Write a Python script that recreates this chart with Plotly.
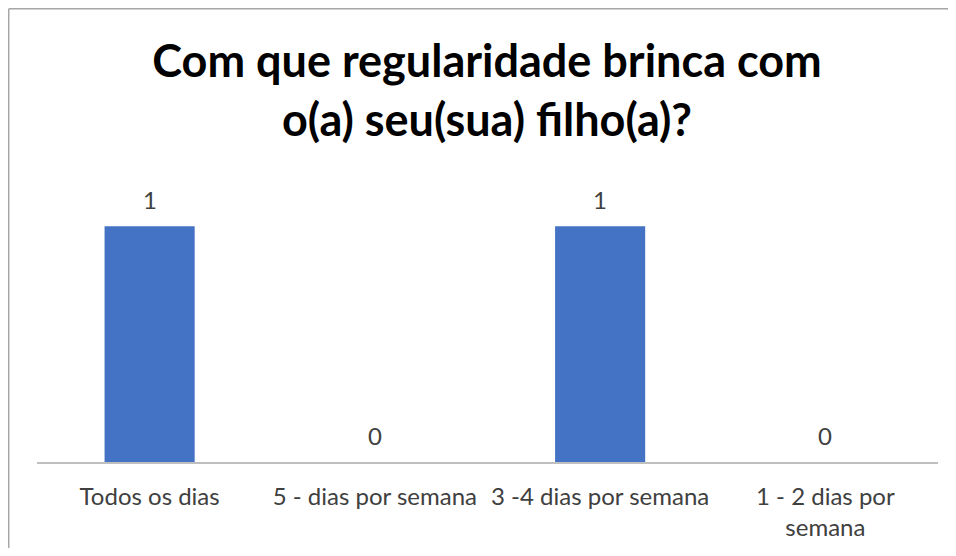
import plotly.graph_objects as go

# Dados
categorias = ["Todos os dias", "5 - dias por semana", "3 -4 dias por semana", "1 - 2 dias por<br>semana"]
valores = [1, 0, 1, 0]
titulo = "Com que regularidade brinca com<br>o(a) seu(sua) filho(a)?"

fonte = "Lato, Carlito, Calibri, sans-serif"

fig = go.Figure()

fig.add_trace(go.Bar(
    x=categorias,
    y=valores,
    marker=dict(color="#4472C4", line=dict(width=0)),
    width=0.4,
    hoverinfo="x+y",
))

# rótulos de dados
for cat, v in zip(categorias, valores):
    fig.add_annotation(
        x=cat, y=v, text=str(v), showarrow=False,
        yanchor="middle", yshift=27,
        font=dict(size=24, color="#404040", family=fonte),
    )

fig.update_layout(
    width=940, height=540,
    margin=dict(l=29, r=10, t=171, b=86, autoexpand=False),
    paper_bgcolor="white",
    plot_bgcolor="white",
    showlegend=False,
    title=dict(
        text="<b>" + titulo + "</b>",
        x=0.5096, xanchor="center",
        y=0.872, yanchor="middle",
        font=dict(size=45, color="black", family=fonte),
    ),
    font=dict(family=fonte, color="#404040"),
)

fig.update_xaxes(
    showline=True, linecolor="#BFBFBF", linewidth=1.5,
    showgrid=False, ticks="", tickangle=0, ticklabelstandoff=12,
    tickfont=dict(size=24, color="#404040", family=fonte),
)
fig.update_yaxes(range=[0, 1.2], visible=False, showgrid=False)

# moldura do gráfico (só lados esquerdo e superior ficam visíveis)
fig.add_shape(type="line", xref="paper", yref="paper",
              x0=-0.0314, x1=-0.0314, y0=-0.6, y1=1.6016,
              line=dict(color="#A6A6A6", width=1.5))
fig.add_shape(type="line", xref="paper", yref="paper",
              x0=-0.0314, x1=1.2, y0=1.6016, y1=1.6016,
              line=dict(color="#A6A6A6", width=1.5))

fig.write_html("out.html")
